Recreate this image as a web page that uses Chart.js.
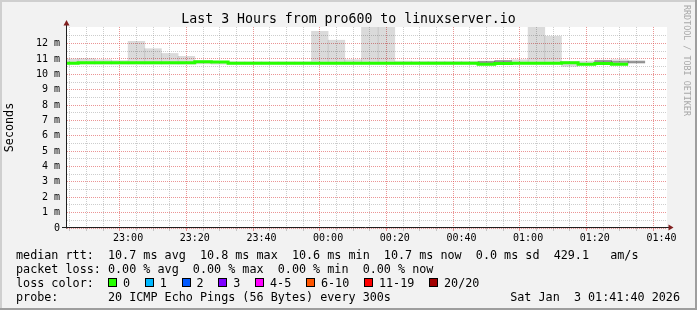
<!DOCTYPE html>
<html>
<head>
<meta charset="utf-8">
<script src="https://cdn.jsdelivr.net/npm/chart.js@4.4.1/dist/chart.umd.min.js"></script>
<style>
html,body{margin:0;padding:0;background:#f2f2f2;}
#wrap{position:relative;width:697px;height:310px;overflow:hidden;background:#f2f2f2;}
#cw{position:absolute;left:0;top:0;width:697px;height:310px;}
.t{position:absolute;font-family:"DejaVu Sans Mono",monospace;color:#000;white-space:pre;}
#title{left:0;width:697px;top:11px;text-align:center;font-size:13.23px;line-height:16px;}
.row{left:16px;font-size:11.76px;line-height:14px;}
#wm{left:682px;top:5px;font-size:8.4px;line-height:9px;color:#a8a8a8;writing-mode:vertical-rl;}
.box{display:inline-block;width:7px;height:7px;border:1px solid #000;margin-right:6px;position:relative;top:0px;}
.lab{margin-right:14.7px;}
#date{right:17px;left:auto;}
</style>
</head>
<body>
<div id="wrap">
  <div id="cw"><canvas id="c"></canvas></div>
  <div class="t" id="title">Last 3 Hours from pro600 to linuxserver.io</div>
  <div class="t" id="wm">RRDTOOL / TOBI OETIKER</div>
  <div class="t row" id="r1" style="top:247.5px"></div>
  <div class="t row" id="r2" style="top:261.5px"></div>
  <div class="t row" id="r3" style="top:275.5px"></div>
  <div class="t row" id="r4" style="top:289.5px"></div>
  <div class="t row" id="date" style="top:289.5px"></div>
</div>
<script>
// ---------- data ----------
const stepStarts = ["22:40","22:45","22:50","22:55","23:00","23:05","23:10","23:15","23:20","23:25",
  "23:30","23:35","23:40","23:45","23:50","23:55","00:00","00:05","00:10","00:15",
  "00:20","00:25","00:30","00:35","00:40","00:45","00:50","00:55","01:00","01:05",
  "01:10","01:15","01:20","01:25","01:30"];
// smoke (ping spread) upper / lower edges, in ms
const smokeHigh = [11.00,11.02,10.95,10.90,12.15,11.67,11.36,11.17,10.88,10.85,
  10.82,10.82,10.82,10.82,10.82,12.80,12.22,10.95,13.50,13.50,
  10.86,10.85,10.85,10.85,10.85,10.86,10.90,10.95,13.30,12.48,
  10.85,10.86,10.92,10.95,10.90];
const smokeLow = [10.66,10.66,10.66,10.66,10.66,10.66,10.66,10.66,10.68,10.66,
  10.66,10.66,10.66,10.66,10.66,10.66,10.66,10.66,10.66,10.66,
  10.66,10.66,10.66,10.66,10.66,10.62,10.66,10.66,10.66,10.66,
  10.52,10.62,10.66,10.62,10.70];
// darker smoke core near the median
const coreLow = [null,null,null,null,null,null,null,null,null,null,
  null,null,null,null,null,null,null,null,null,null,
  null,null,null,null,null,10.76,10.80,null,null,null,
  null,null,10.80,10.78,10.76];
const coreHigh = [null,null,null,null,null,null,null,null,null,null,
  null,null,null,null,null,null,null,null,null,null,
  null,null,null,null,null,10.84,10.90,null,null,null,
  null,null,10.90,10.84,10.84];
// median rtt, in ms
const medianRtt = [10.72,10.75,10.75,10.75,10.75,10.75,10.75,10.75,10.82,10.80,
  10.72,10.72,10.72,10.72,10.72,10.72,10.72,10.72,10.72,10.72,
  10.72,10.72,10.72,10.72,10.72,10.66,10.70,10.72,10.72,10.72,
  10.75,10.65,10.70,10.65,null];
const xTickLabels = ["23:00","23:20","23:40","00:00","00:20","00:40","01:00","01:20","01:40"];
const timeStart = "22:41:40";
const timeEnd = "01:41:40";
const stepMinutes = 5;
const yMaxMs = 13.08;

const legendRtt = ["median rtt:","10.7 ms avg","10.8 ms max","10.6 ms min","10.7 ms now","0.0 ms sd","429.1   am/s"];
const legendLoss = ["packet loss:","0.00 % avg","0.00 % max","0.00 % min","0.00 % now"];
const lossLabels = ["0","1","2","3","4-5","6-10","11-19","20/20"];
const lossColors = ["#26ff00","#00b8ff","#0059ff","#7e00ff","#ff00ff","#ff5500","#ff0000","#a10000"];
const probeText = "20 ICMP Echo Pings (56 Bytes) every 300s";
const dateText = "Sat Jan  3 01:41:40 2026";

// ---------- helpers ----------
function toMin(s){const p=s.split(':').map(Number);let h=p[0];if(h<12)h+=24;return h*60+p[1]+(p[2]||0)/60-22*60;}
const xs = stepStarts.map(toMin);
const xMin = toMin(timeStart), xMax = toMin(timeEnd);
const majorX = xTickLabels.map(toMin);
const isMajorX = v => majorX.some(m => Math.abs(m - v) < 1e-6);

const smokeData = xs.map((x,i)=>({x:x+stepMinutes/2, y:[smokeLow[i], smokeHigh[i]]}));
const coreData = xs.map((x,i)=>({x:x+stepMinutes/2, y:(coreLow[i]==null?null:[coreLow[i], coreHigh[i]])}));
const medData = [];
medianRtt.forEach((v,i)=>{
  if(v==null) return;
  medData.push({x:xs[i], y:v});
  const nxt = medianRtt[i+1];
  if(nxt==null){ medData.push({x:xs[i]+stepMinutes, y:v}); medData.push({x:xs[i]+stepMinutes, y:null}); }
});

// ---------- legend text ----------
document.getElementById('r1').textContent = legendRtt[0].padEnd(13) + legendRtt.slice(1).join('  ');
document.getElementById('r2').textContent = legendLoss[0].padEnd(13) + legendLoss.slice(1).join('  ');
(function(){
  const r3 = document.getElementById('r3');
  r3.appendChild(document.createTextNode("loss color:  "));
  lossLabels.forEach((l,i)=>{
    const b=document.createElement('span'); b.className='box'; b.style.background=lossColors[i]; r3.appendChild(b);
    const t=document.createElement('span'); t.className='lab'; t.textContent=l; r3.appendChild(t);
  });
})();
document.getElementById('r4').textContent = "probe:".padEnd(13) + probeText;
document.getElementById('date').textContent = dateText;

// ---------- chart ----------
const MINOR = 'rgba(145,145,145,0.45)';
const MAJOR = 'rgba(222,79,79,0.6)';
const FONT = '"DejaVu Sans Mono", monospace';
const xGridColor = c => (c && c.tick && isMajorX(c.tick.value)) ? MAJOR : MINOR;
const yGridColor = c => (c && c.tick && Math.abs(c.tick.value-Math.round(c.tick.value))<1e-6) ? MAJOR : MINOR;

const framePlugin = {
  id:'frame',
  beforeDraw(chart){
    const {ctx, chartArea:a, width:w, height:h} = chart;
    ctx.save();
    ctx.fillStyle='#f2f2f2'; ctx.fillRect(0,0,w,h);
    ctx.fillStyle='#ffffff'; ctx.fillRect(a.left,a.top,a.right-a.left,a.bottom-a.top);
    ctx.fillStyle='#cfcfcf'; ctx.fillRect(0,0,w,2); ctx.fillRect(0,0,2,h);
    ctx.fillStyle='#9e9e9e'; ctx.fillRect(0,h-2,w,2); ctx.fillRect(w-2,0,2,h);
    ctx.restore();
  },
  afterDatasetsDraw(chart){
    const {ctx, chartArea:a} = chart;
    ctx.save();
    ctx.strokeStyle='#1f1f1f'; ctx.lineWidth=1;
    ctx.beginPath();
    ctx.moveTo(a.left-0.5, a.bottom+0.5); ctx.lineTo(a.left-0.5, a.top-2);
    ctx.moveTo(a.left-5, a.bottom-0.5); ctx.lineTo(a.right+2, a.bottom-0.5);
    ctx.stroke();
    ctx.fillStyle='#801f1f';
    ctx.beginPath();
    ctx.moveTo(a.left-0.5, a.top-7); ctx.lineTo(a.left-3.5, a.top-1.5); ctx.lineTo(a.left+2.5, a.top-1.5); ctx.closePath(); ctx.fill();
    ctx.beginPath();
    ctx.moveTo(a.right+6.5, a.bottom-0.5); ctx.lineTo(a.right+1.5, a.bottom-3.5); ctx.lineTo(a.right+1.5, a.bottom+2.5); ctx.closePath(); ctx.fill();
    ctx.restore();
  }
};

new Chart(document.getElementById('c'), {
  data:{
    datasets:[
      {type:'line', label:'median', data:medData, stepped:true, borderColor:'#26ff00', borderWidth:3,
       pointRadius:0, borderCapStyle:'butt', borderJoinStyle:'miter', spanGaps:false, order:0,
       clip:{left:0,right:0,top:5,bottom:5}},
      {type:'bar', label:'core', data:coreData, backgroundColor:'rgba(0,0,0,0.33)', borderWidth:0,
       barPercentage:1, categoryPercentage:1, grouped:false, order:1},
      {type:'bar', label:'smoke', data:smokeData, backgroundColor:'rgba(0,0,0,0.145)', borderWidth:0,
       barPercentage:1, categoryPercentage:1, grouped:false, order:2}
    ]
  },
  options:{
    responsive:true, maintainAspectRatio:false, animation:false,
    layout:{padding:{top:27,right:30,left:0,bottom:0}},
    plugins:{legend:{display:false}, tooltip:{enabled:false}, title:{display:false}},
    scales:{
      x:{type:'linear', min:xMin, max:xMax, offset:false,
        afterBuildTicks(s){const t=[];for(let m=Math.ceil(xMin/stepMinutes)*stepMinutes;m<=xMax+1e-9;m+=stepMinutes)t.push({value:m});s.ticks=t;},
        afterFit(s){s.height=82;},
        ticks:{autoSkip:false, maxRotation:0, padding:1, color:'#000', font:{family:FONT,size:10},
          callback(v){const i=majorX.findIndex(m=>Math.abs(m-v)<1e-6);return i>=0?xTickLabels[i]:'';}},
        grid:{color:xGridColor, tickColor:xGridColor, tickBorderDash:[], tickLength:3, drawTicks:true, lineWidth:1},
        border:{display:false, dash:[1,1]}
      },
      y:{type:'linear', min:0, max:yMaxMs,
        afterBuildTicks(s){const t=[];for(let v=0;v<=12.5+1e-9;v+=0.5)t.push({value:v});s.ticks=t;},
        afterFit(s){s.width=67;},
        ticks:{autoSkip:false, padding:7, color:'#000', font:{family:FONT,size:10},
          callback(v){if(Math.abs(v-Math.round(v))>1e-6)return '';return v===0?'0':Math.round(v)+' m';}},
        grid:{color:yGridColor, drawTicks:false, lineWidth:1},
        border:{display:false, dash:[1,1]},
        title:{display:true, text:'Seconds', color:'#000', font:{family:FONT,size:11.76}, padding:{top:3,bottom:0}}
      }
    }
  },
  plugins:[framePlugin]
});
</script>
</body>
</html>
